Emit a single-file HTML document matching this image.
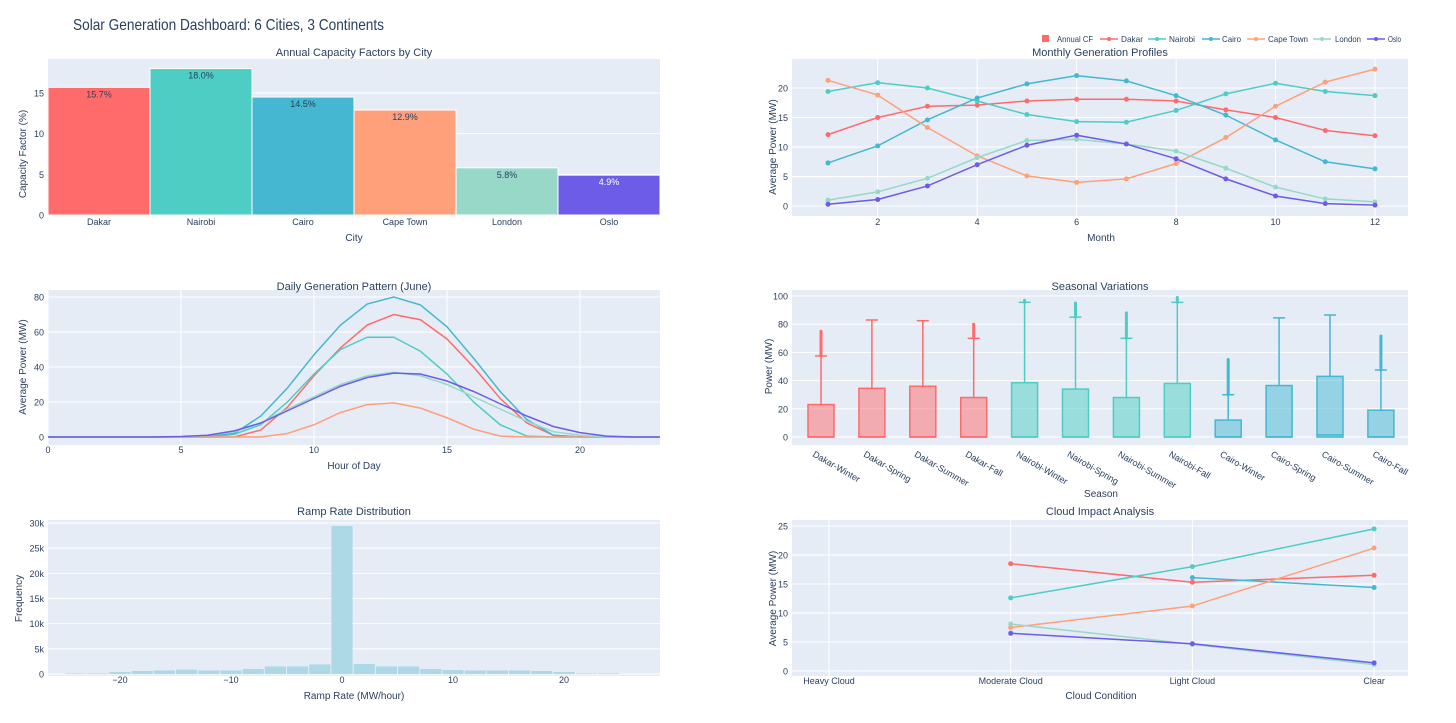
<!DOCTYPE html>
<html><head><meta charset="utf-8">
<style>
html,body{margin:0;padding:0;background:#fff;}
svg{display:block;font-family:"Liberation Sans",sans-serif;}
text{fill:#2a3f5f;}
</style></head>
<body>
<svg id="svg" width="1456" height="723" viewBox="0 0 1456 723" xmlns="http://www.w3.org/2000/svg">
<text x="73" y="30" font-size="16" textLength="311" lengthAdjust="spacingAndGlyphs">Solar Generation Dashboard: 6 Cities, 3 Continents</text>
</svg>
<script>
const cities=["Dakar","Nairobi","Cairo","Cape Town","London","Oslo"];
const colors=["#FF6B6B","#4ECDC4","#45B7D1","#FFA07A","#98D8C8","#6C5CE7"];
const annualCF=[15.7,18.0,14.5,12.9,5.8,4.9];
const months=[1,2,3,4,5,6,7,8,9,10,11,12];
const mDakar=[12.1,15.0,16.9,17.1,17.8,18.1,18.1,17.8,16.3,15.0,12.8,11.9];
const mNairobi=[19.4,20.9,20.0,17.8,15.5,14.3,14.2,16.2,19.0,20.8,19.4,18.7];
const mCairo=[7.3,10.2,14.6,18.3,20.7,22.1,21.2,18.7,15.4,11.2,7.5,6.3];
const mCape=[21.3,18.8,13.3,8.5,5.1,4.0,4.6,7.2,11.6,16.9,21.0,23.2];
const mLondon=[1.0,2.4,4.7,8.2,11.1,11.3,10.5,9.3,6.4,3.2,1.2,0.7];
const mOslo=[0.3,1.1,3.4,7.0,10.3,12.0,10.5,8.0,4.6,1.7,0.4,0.15];
const hours=[0,1,2,3,4,5,6,7,8,9,10,11,12,13,14,15,16,17,18,19,20,21,22,23];
const dDakar=[0,0,0,0,0,0,0,0,4,17,35,51,64,70,67,56,40,22,8,1,0,0,0,0];
const dNairobi=[0,0,0,0,0,0,0,1.5,7,20,36,50,57,57,49,36,20,7,0.5,0,0,0,0,0];
const dCairo=[0,0,0,0,0,0,0.5,2,12,28,47,64,76,80,75.5,63,45,26,10,1,0,0,0,0];
const dCape=[0,0,0,0,0,0,0,0,0,2,7,14,18.5,19.5,16.5,11,4.5,0.5,0,0,0,0,0,0];
const dLondon=[0,0,0,0,0,0,1,3,8,16,23,30,35,37,35,30,23,16,9,3,1,0,0,0];
const dOslo=[0,0,0,0,0,0.3,1,3.5,8,15,22,29,34,36.5,36,32,26,19,12,6,2.5,0.5,0,0];
const seasons=["Dakar-Winter","Dakar-Spring","Dakar-Summer","Dakar-Fall","Nairobi-Winter","Nairobi-Spring","Nairobi-Summer","Nairobi-Fall","Cairo-Winter","Cairo-Spring","Cairo-Summer","Cairo-Fall"];
const boxQ3=[23,34.5,36,28,38.5,34,28,38,12,36.5,43,19];
const boxMed=[0,0,0,0,0,0,0,0,0,0,1.5,0];
const boxUpper=[57.5,83,82.5,70,95.5,85,70,95.5,30,84.5,86.5,47.5];
const boxMaxOut=[75,null,null,80,97,95,88,99,55,null,null,71.5];
const binStarts=[-25,-23,-21,-19,-17,-15,-13,-11,-9,-7,-5,-3,-1,1,3,5,7,9,11,13,15,17,19,21,23];
const binCounts=[100,100,400,600,700,850,700,700,1000,1500,1500,1900,29400,2000,1500,1500,1000,800,700,700,700,600,400,100,100];
const clouds=["Heavy Cloud","Moderate Cloud","Light Cloud","Clear"];
const cDakar=[null,18.5,15.3,16.5];
const cNairobi=[null,12.6,18.0,24.5];
const cCairo=[null,null,16.1,14.4];
const cCape=[null,7.5,11.2,21.2];
const cLondon=[null,8.1,4.6,1.1];
const cOslo=[null,6.5,4.7,1.4];

const NS="http://www.w3.org/2000/svg";
const svg=document.getElementById('svg');
function mk(tag,attrs,parent,txt){const e=document.createElementNS(NS,tag);for(const k in attrs)e.setAttribute(k,attrs[k]);if(txt!==undefined)e.textContent=txt;(parent||svg).appendChild(e);return e;}
function lin(d0,d1,r0,r1){return v=>r0+(v-d0)*(r1-r0)/(d1-d0);}

function panel(name,x0,x1,y0,y1,title,titleY){
  const g=mk('g',{});
  
  
  const bg=mk('rect',{x:x0,y:y0,width:x1-x0,height:y1-y0,fill:'#E5ECF6'},g);
  
  
  const t=mk('text',{x:(x0+x1)/2,y:titleY,'font-size':11,'text-anchor':'middle'},g,title);
  
  
  return g;
}
function yaxis(g,ys,ticks,fmt,x0,x1,title,tx){
  ticks.forEach(v=>{
    mk('line',{x1:x0,x2:x1,y1:ys(v),y2:ys(v),stroke:'#fff','stroke-width':1},g);
    const t=mk('text',{x:x0-4,y:ys(v)+3.5,'font-size':9,'text-anchor':'end'},g,fmt(v));
    
    
  });
  const cy=(ys(ticks[0])+ys(ticks[ticks.length-1]))/2;
  const t=mk('text',{x:tx,y:cy,'font-size':10,'text-anchor':'middle',transform:`rotate(-90 ${tx} ${cy})`},g,title);
  
  
}
function xaxis(g,xs,ticks,fmt,y0,y1,ly,grid,title,tx,ty){
  ticks.forEach(v=>{
    if(grid)mk('line',{x1:xs(v),x2:xs(v),y1:y0,y2:y1,stroke:'#fff','stroke-width':1},g);
    const t=mk('text',{x:xs(v),y:ly,'font-size':9,'text-anchor':'middle'},g,fmt(v));
    
    
  });
  const t=mk('text',{x:tx,y:ty,'font-size':10,'text-anchor':'middle'},g,title);
  
  
}
function line(g,xs,ys,xv,yv,color,markers,name){
  let d='';let pen=false;
  xv.forEach((x,i)=>{const v=yv[i];if(v===null){pen=false;return;}d+=(pen?'L':'M')+xs(x)+' '+ys(v);pen=true;});
  const p=mk('path',{d:d,fill:'none',stroke:color,'stroke-width':1.5},g);
  
  
  if(markers)xv.forEach((x,i)=>{const v=yv[i];if(v===null)return;
    const c=mk('circle',{cx:xs(x),cy:ys(v),r:2.5,fill:color},g);
    
    });
}

// Panel 1: bars
(function(){
  const g=panel('capacity-factor-chart',48,660,59,215,'Annual Capacity Factors by City',56);
  const ys=lin(0,15,215,93);
  yaxis(g,ys,[0,5,10,15],v=>v,48,660,'Capacity Factor (%)',26);
  const bw=(660-48)/cities.length;
  cities.forEach((c,i)=>{
    const x=48+i*bw;
    const r=mk('rect',{x:x,y:ys(annualCF[i]),width:bw,height:ys(0)-ys(annualCF[i]),fill:colors[i],stroke:'#fff','stroke-width':1},g);
    
    
    const t=mk('text',{x:x+bw/2,y:ys(annualCF[i])+10,'font-size':9,'text-anchor':'middle'},g,annualCF[i].toFixed(1)+'%');
    if(i===5)t.setAttribute('style','fill:#fff');
    
    
  });
  const xs=i=>48+(i+0.5)*bw;
  xaxis(g,xs,cities.map((c,i)=>i),i=>cities[i],215,215,225,false,'City',354,241);
})();

// Panel 2: monthly
(function(){
  const g=panel('monthly-profiles-chart',792,1408,59,216,'Monthly Generation Profiles',56);
  const ys=lin(0,20,206,88);
  const xs=lin(1,12,828,1375);
  xaxis(g,xs,[2,4,6,8,10,12],v=>v,59,216,225,true,'Month',1101,241);
  yaxis(g,ys,[0,5,10,15,20],v=>v,792,1408,'Average Power (MW)',776);
  [mDakar,mNairobi,mCairo,mCape,mLondon,mOslo].forEach((s,i)=>line(g,xs,ys,months,s,colors[i],true,'line-'+cities[i].toLowerCase().replace(' ','-')));
})();

// Legend
(function(){
  const g=mk('g',{});
  
  
  const sq=mk('rect',{x:1042,y:35,width:7,height:7,fill:'#FF6B6B'},g);
  
  
  mk('text',{x:1057,y:42,'font-size':8.5,textLength:36,lengthAdjust:'spacingAndGlyphs'},g,'Annual CF');
  const pos=[[1100,1121,22],[1148,1169,26],[1202,1222,19],[1247,1268,40],[1313,1335,26],[1367,1388,13]];
  cities.forEach((c,i)=>{
    const [lx,tx,tw]=pos[i];
    mk('line',{x1:lx,x2:lx+18,y1:39,y2:39,stroke:colors[i],'stroke-width':1.5},g);
    mk('circle',{cx:lx+9,cy:39,r:2,fill:colors[i]},g);
    const t=mk('text',{x:tx,y:42,'font-size':8.5,textLength:tw,lengthAdjust:'spacingAndGlyphs'},g,c);
    
    
  });
})();

// Panel 3: daily
(function(){
  const g=panel('daily-pattern-chart',48,660,290,445,'Daily Generation Pattern (June)',290);
  const ys=lin(0,80,437,297);
  const xs=lin(0,20,48,580);
  xaxis(g,xs,[0,5,10,15,20],v=>v,290,445,453,true,'Hour of Day',354,469);
  yaxis(g,ys,[0,20,40,60,80],v=>v,48,660,'Average Power (MW)',26);
  [dDakar,dNairobi,dCairo,dCape,dLondon,dOslo].forEach((s,i)=>line(g,xs,ys,hours,s,colors[i],false,'daily-line-'+cities[i].toLowerCase().replace(' ','-')));
})();

// Panel 4: box
(function(){
  const g=panel('seasonal-box-chart',792,1408,290,445,'Seasonal Variations',290);
  const ys=lin(0,100,437,296);
  const xs=i=>821+i*50.9;
  yaxis(g,ys,[0,20,40,60,80,100],v=>v,792,1408,'Power (MW)',772);
  const bc=[0,0,0,0,1,1,1,1,2,2,2,2];
  seasons.forEach((s,i)=>{
    const c=colors[bc[i]];const x=xs(i);const w=26;
    mk('line',{x1:x,x2:x,y1:ys(boxQ3[i]),y2:ys(boxUpper[i]),stroke:c,'stroke-width':1.5},g);
    mk('line',{x1:x-6,x2:x+6,y1:ys(boxUpper[i]),y2:ys(boxUpper[i]),stroke:c,'stroke-width':1.5},g);
    const b=mk('rect',{x:x-w/2,y:ys(boxQ3[i]),width:w,height:ys(0)-ys(boxQ3[i]),fill:c,'fill-opacity':0.5,stroke:c,'stroke-width':1.5},g);
    
    
    mk('line',{x1:x-w/2,x2:x+w/2,y1:ys(boxMed[i]),y2:ys(boxMed[i]),stroke:c,'stroke-width':1.5},g);
    if(boxMaxOut[i]!==null){
      const o=mk('line',{x1:x,x2:x,y1:ys(boxUpper[i]),y2:ys(boxMaxOut[i]),stroke:c,'stroke-width':3,'stroke-linecap':'round'},g);
      
      
    }
    const t=mk('text',{x:x-9,y:456,'font-size':9,transform:`rotate(30 ${x-9} 456)`},g,s);
    
    
  });
  const t=mk('text',{x:1101,y:497,'font-size':10,'text-anchor':'middle'},g,'Season');
  
  
})();

// Panel 5: histogram
(function(){
  const g=panel('ramp-rate-histogram',48,660,520,676,'Ramp Rate Distribution',515);
  const ys=lin(0,30000,674,523);
  const xs=lin(0,10,342,453);
  xaxis(g,xs,[-20,-10,0,10,20],v=>v<0?'\u2212'+(-v):v,520,676,683,false,'Ramp Rate (MW/hour)',354,699);
  yaxis(g,ys,[0,5000,10000,15000,20000,25000,30000],v=>v===0?'0':(v/1000)+'k',48,660,'Frequency',22);
  binStarts.forEach((b,i)=>{
    const r=mk('rect',{x:xs(b)+0.5,y:ys(binCounts[i]),width:xs(b+2)-xs(b)-1,height:ys(0)-ys(binCounts[i]),fill:'#ADD8E6'},g);
    
    
  });
})();

// Panel 6: cloud
(function(){
  const g=panel('cloud-impact-chart',792,1408,520,676,'Cloud Impact Analysis',515);
  const ys=lin(0,25,671,526);
  const xs=i=>829+i*181.7;
  xaxis(g,xs,[0,1,2,3],i=>clouds[i],520,676,684,true,'Cloud Condition',1101,699);
  yaxis(g,ys,[0,5,10,15,20,25],v=>v,792,1408,'Average Power (MW)',776);
  [cDakar,cNairobi,cCairo,cCape,cLondon,cOslo].forEach((s,i)=>line(g,xs,ys,[0,1,2,3],s,colors[i],true,'cloud-line-'+cities[i].toLowerCase().replace(' ','-')));
})();
</script>
</body></html>
